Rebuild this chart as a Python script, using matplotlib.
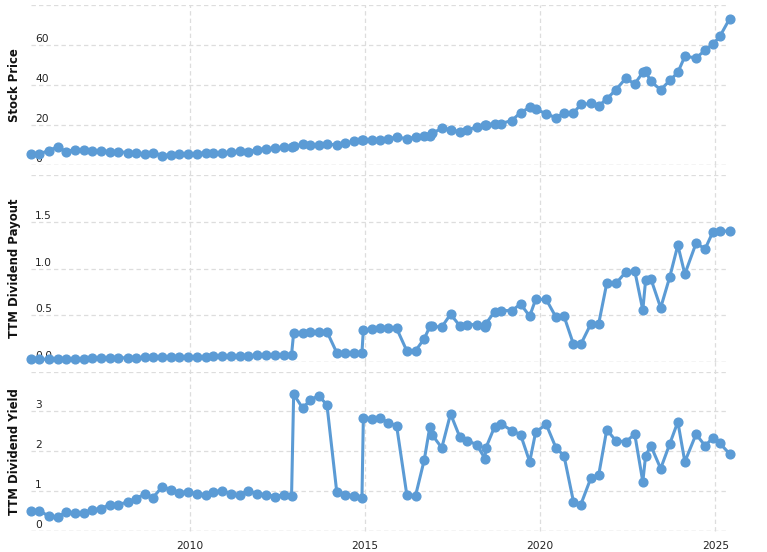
import matplotlib
matplotlib.use("Agg")
import matplotlib.pyplot as plt
from matplotlib.transforms import blended_transform_factory, offset_copy

# ---------------- data ----------------
dates = [2005.45, 2005.70, 2005.96, 2006.22, 2006.46, 2006.71, 2006.96, 2007.20, 2007.46, 2007.72,
         2007.94, 2008.22, 2008.45, 2008.71, 2008.94, 2009.21, 2009.45, 2009.69, 2009.93, 2010.19,
         2010.45, 2010.67, 2010.90, 2011.18, 2011.43, 2011.67, 2011.90, 2012.18, 2012.43, 2012.68,
         2012.90, 2012.96, 2013.22, 2013.43, 2013.67, 2013.91, 2014.19, 2014.43, 2014.67, 2014.91,
         2014.95, 2015.19, 2015.43, 2015.65, 2015.90, 2016.19, 2016.44, 2016.69, 2016.85, 2016.91,
         2017.19, 2017.44, 2017.70, 2017.91, 2018.19, 2018.42, 2018.45, 2018.70, 2018.88, 2019.19,
         2019.44, 2019.70, 2019.87, 2020.17, 2020.45, 2020.68, 2020.95, 2021.16, 2021.45, 2021.67,
         2021.90, 2022.16, 2022.44, 2022.70, 2022.93, 2023.01, 2023.16, 2023.44, 2023.70, 2023.93,
         2024.13, 2024.45, 2024.71, 2024.93, 2025.13, 2025.41]

stock_price = [5.3, 5.5, 7.2, 9.0, 6.7, 7.7, 7.7, 7.2, 7.2, 6.7,
               6.7, 6.2, 5.8, 5.3, 6.2, 4.7, 5.2, 5.7, 5.7, 5.7,
               6.2, 6.0, 6.0, 6.5, 7.0, 6.7, 7.7, 8.2, 8.5, 8.8,
               9.2, 9.3, 10.3, 9.8, 9.8, 10.7, 9.8, 10.8, 11.8, 12.5,
               12.6, 12.7, 12.7, 13.2, 13.8, 13.2, 13.8, 14.3, 14.3, 15.8,
               18.3, 17.7, 16.5, 17.7, 18.8, 19.9, 20.0, 20.7, 20.7, 22.2,
               26.2, 28.7, 27.7, 25.7, 23.5, 26.0, 26.0, 30.2, 30.7, 29.5,
               33.0, 37.5, 43.2, 40.5, 46.2, 46.7, 41.7, 37.5, 42.2, 46.2,
               54.2, 53.5, 57.2, 60.3, 64.2, 73.0]

ttm_dividend = [0.030, 0.030, 0.030, 0.030, 0.030, 0.035, 0.035, 0.040, 0.040, 0.045,
                0.045, 0.045, 0.048, 0.050, 0.052, 0.053, 0.054, 0.055, 0.056, 0.055,
                0.057, 0.059, 0.061, 0.061, 0.064, 0.068, 0.072, 0.075, 0.075, 0.078,
                0.080, 0.31, 0.31, 0.325, 0.325, 0.325, 0.10, 0.10, 0.10, 0.10,
                0.34, 0.35, 0.36, 0.36, 0.36, 0.12, 0.12, 0.25, 0.38, 0.38,
                0.375, 0.51, 0.39, 0.40, 0.40, 0.37, 0.41, 0.54, 0.55, 0.55,
                0.62, 0.49, 0.67, 0.67, 0.48, 0.49, 0.19, 0.19, 0.41, 0.41,
                0.84, 0.84, 0.96, 0.975, 0.555, 0.875, 0.89, 0.58, 0.91, 1.25,
                0.94, 1.27, 1.21, 1.39, 1.40, 1.40]

ttm_yield = [0.52, 0.52, 0.38, 0.36, 0.48, 0.46, 0.46, 0.54, 0.57, 0.67,
             0.67, 0.73, 0.82, 0.93, 0.84, 1.12, 1.04, 0.97, 0.99, 0.94,
             0.92, 0.99, 1.02, 0.94, 0.92, 1.02, 0.94, 0.92, 0.87, 0.92,
             0.88, 3.43, 3.08, 3.29, 3.39, 3.17, 0.99, 0.92, 0.89, 0.83,
             2.84, 2.82, 2.84, 2.72, 2.64, 0.92, 0.89, 1.79, 2.62, 2.42,
             2.09, 2.94, 2.37, 2.27, 2.17, 1.82, 2.09, 2.62, 2.69, 2.52,
             2.42, 1.74, 2.48, 2.68, 2.09, 1.89, 0.74, 0.67, 1.34, 1.41,
             2.54, 2.27, 2.24, 2.43, 1.24, 1.89, 2.14, 1.57, 2.19, 2.74,
             1.74, 2.43, 2.14, 2.34, 2.20, 1.94]

x_ticks = [2010, 2015, 2020, 2025]
x_tick_labels = ["2010", "2015", "2020", "2025"]

panels = [
    dict(values=stock_price, label="Stock Price", ylim=(0, 80),
         ticks=[0, 20, 40, 60, 80], tick_labels=["0", "20", "40", "60", ""]),
    dict(values=ttm_dividend, label="TTM Dividend Payout", ylim=(0, 2.0),
         ticks=[0.0, 0.5, 1.0, 1.5, 2.0], tick_labels=["0.0", "0.5", "1.0", "1.5", ""]),
    dict(values=ttm_yield, label="TTM Dividend Yield", ylim=(0, 4),
         ticks=[0, 1, 2, 3, 4], tick_labels=["0", "1", "2", "3", ""]),
]

# ---------------- layout ----------------
W, H = 767, 552
fig = plt.figure(figsize=(W / 100, H / 100), dpi=100)
plt.rcParams['font.family'] = ['DejaVu Sans']

left_px, right_px = 31, 727
boxes = [(4.7, 165.0), (175.0, 362.0), (371.5, 531.3)]
xlim = (2005.46, 2025.334)

line_color = "#5b9bd5"
grid_light = "#dddddd"
grid_dark = "#a8a8a8"
dash = (0, (3.5, 2.5))

axes = []
for i, (p, (top, bot)) in enumerate(zip(panels, boxes)):
    ax = fig.add_axes([left_px / W, 1 - bot / H, (right_px - left_px) / W, (bot - top) / H])
    axes.append(ax)
    ax.set_xlim(*xlim)
    ax.set_ylim(*p["ylim"])
    for s in ax.spines.values():
        s.set_visible(False)
    ax.set_yticks([])
    ax.set_xticks(x_ticks)
    ax.tick_params(axis="x", length=0, pad=7, labelsize=7.7, colors="#222222")
    if i < 2:
        ax.set_xticklabels([])
    else:
        ax.set_xticklabels(x_tick_labels)

    # horizontal gridlines
    for t in p["ticks"]:
        ax.axhline(t, color=grid_dark if t == 0 else grid_light, lw=0.9, ls=dash, zorder=1)
    # vertical gridlines (extend up into the gap above)
    gap_above = (top - boxes[i - 1][1]) if i > 0 else 0
    frac = gap_above / (bot - top)
    for xt in x_ticks:
        ax.axvline(xt, ymin=0, ymax=1 + frac, color=grid_light, lw=0.9, ls=dash,
                   zorder=1, clip_on=False)

    # tick labels inside plot, just above gridlines
    trans = offset_copy(blended_transform_factory(ax.transAxes, ax.transData),
                        fig=fig, x=4, y=1, units="dots")
    for t, lab in zip(p["ticks"], p["tick_labels"]):
        if lab:
            ax.text(0, t, lab, transform=trans, ha="left", va="bottom",
                    fontsize=7.7, color="#222222", zorder=2)

    ax.plot(dates, p["values"], color=line_color, lw=2.2, marker="o", markersize=6.3,
            markerfacecolor=line_color, markeredgecolor=line_color, zorder=3, clip_on=False)

    fig.text(15 / W, 1 - ((top + bot) / 2) / H, p["label"], rotation=90, ha="center",
             va="center", fontsize=8.4, fontweight="bold", color="#111111")

fig.savefig("out.png", dpi=100)
